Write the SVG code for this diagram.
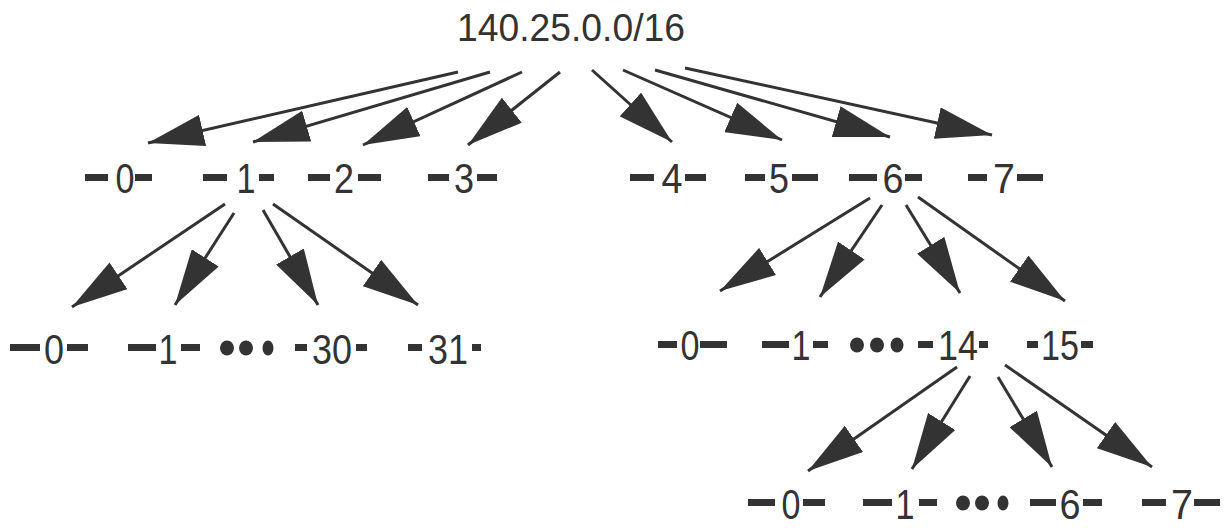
<svg xmlns="http://www.w3.org/2000/svg" width="1224" height="528" viewBox="0 0 1224 528">
<style>
.t{font-family:"Liberation Sans",Arial,sans-serif;font-size:43px;fill:#333;text-anchor:middle}
.t3{font-family:"Liberation Sans",Arial,sans-serif;font-size:42px;fill:#333;text-anchor:middle}
.r{font-family:"Liberation Sans",Arial,sans-serif;font-size:38px;fill:#333;text-anchor:middle}
.d{fill:#333}
.a{stroke:#333;stroke-width:3;fill:none;marker-end:url(#ah)}
</style>
<defs>
<marker id="ah" markerUnits="userSpaceOnUse" viewBox="0 0 56 32" refX="56" refY="16" markerWidth="56" markerHeight="32" orient="auto">
<path d="M0,0 L56,16 L0,32 Z" fill="#333"/>
</marker>
</defs>
<rect width="1224" height="528" fill="#fff"/>
<g id="root"><text class="r" x="571" y="41" textLength="228" lengthAdjust="spacingAndGlyphs">140.25.0.0/16</text></g>

<g id="connectors">
<path class="a" d="M458,72 L148,143"/>
<path class="a" d="M490,72 L253,142"/>
<path class="a" d="M522,72 L363,145"/>
<path class="a" d="M560,72 L468,145"/>
<path class="a" d="M592,70 L672,142"/>
<path class="a" d="M623,70 L782,140"/>
<path class="a" d="M655,70 L890,137"/>
<path class="a" d="M685,68 L992,135"/>
<path class="a" d="M225,204 L72,307"/>
<path class="a" d="M234,213 L175,305"/>
<path class="a" d="M263,210 L318,305"/>
<path class="a" d="M273,204 L418,305"/>
<path class="a" d="M870,198 L720,291"/>
<path class="a" d="M882,205 L820,297"/>
<path class="a" d="M906,205 L960,293"/>
<path class="a" d="M918,197 L1065,301"/>
<path class="a" d="M957,367 L808,471"/>
<path class="a" d="M970,376 L912,469"/>
<path class="a" d="M998,377 L1052,467"/>
<path class="a" d="M1005,365 L1152,467"/>
</g>

<g id="n1-0"><rect class="d" x="85" y="174" width="23" height="7"/><text class="t" x="125" y="193" textLength="19" lengthAdjust="spacingAndGlyphs">0</text><rect class="d" x="135" y="174" width="17" height="7"/></g>
<g id="n1-1"><rect class="d" x="203" y="174" width="24" height="7"/><text class="t" x="246" y="193" textLength="19" lengthAdjust="spacingAndGlyphs">1</text><rect class="d" x="259" y="174" width="15" height="7"/></g>
<g id="n1-2"><rect class="d" x="308" y="174" width="22" height="7"/><text class="t" x="344" y="193" textLength="20" lengthAdjust="spacingAndGlyphs">2</text><rect class="d" x="358" y="174" width="23" height="7"/></g>
<g id="n1-3"><rect class="d" x="428" y="174" width="21" height="7"/><text class="t" x="464" y="193" textLength="20" lengthAdjust="spacingAndGlyphs">3</text><rect class="d" x="477" y="174" width="20" height="7"/></g>
<g id="n1-4"><rect class="d" x="630" y="174" width="24" height="7"/><text class="t" x="672" y="193" textLength="21" lengthAdjust="spacingAndGlyphs">4</text><rect class="d" x="685" y="174" width="21" height="7"/></g>
<g id="n1-5"><rect class="d" x="745" y="174" width="20" height="7"/><text class="t" x="779" y="193" textLength="20" lengthAdjust="spacingAndGlyphs">5</text><rect class="d" x="792" y="174" width="26" height="7"/></g>
<g id="n1-6"><rect class="d" x="849" y="174" width="28" height="7"/><text class="t" x="893" y="193" textLength="21" lengthAdjust="spacingAndGlyphs">6</text><rect class="d" x="905" y="174" width="17" height="7"/></g>
<g id="n1-7"><rect class="d" x="968" y="174" width="19" height="7"/><text class="t" x="1004" y="193" textLength="22" lengthAdjust="spacingAndGlyphs">7</text><rect class="d" x="1017" y="174" width="26" height="7"/></g>

<g id="n2a-0"><rect class="d" x="10" y="344" width="30" height="7"/><text class="t" x="54" y="364" textLength="20" lengthAdjust="spacingAndGlyphs">0</text><rect class="d" x="67" y="344" width="21" height="7"/></g>
<g id="n2a-1"><rect class="d" x="128" y="344" width="28" height="7"/><text class="t" x="168" y="364" textLength="19" lengthAdjust="spacingAndGlyphs">1</text><rect class="d" x="181" y="344" width="19" height="7"/></g>
<g id="n2a-dots"><ellipse class="d" cx="227" cy="348" rx="7" ry="7.5"/><ellipse class="d" cx="246" cy="348" rx="7" ry="7.5"/><ellipse class="d" cx="268" cy="348" rx="5.5" ry="7.5"/></g>
<g id="n2a-30"><rect class="d" x="295" y="344" width="12" height="7"/><text class="t" x="332" y="364" textLength="40" lengthAdjust="spacingAndGlyphs">30</text><rect class="d" x="356" y="344" width="11" height="7"/></g>
<g id="n2a-31"><rect class="d" x="408" y="344" width="14" height="7"/><text class="t" x="448" y="364" textLength="40" lengthAdjust="spacingAndGlyphs">31</text><rect class="d" x="472" y="344" width="9" height="7"/></g>

<g id="n2b-0"><rect class="d" x="658" y="341" width="19" height="7"/><text class="t" x="690" y="360" textLength="19" lengthAdjust="spacingAndGlyphs">0</text><rect class="d" x="700" y="341" width="27" height="7"/></g>
<g id="n2b-1"><rect class="d" x="762" y="341" width="27" height="7"/><text class="t" x="801" y="360" textLength="19" lengthAdjust="spacingAndGlyphs">1</text><rect class="d" x="813" y="341" width="15" height="7"/></g>
<g id="n2b-dots"><ellipse class="d" cx="857" cy="345" rx="7" ry="7.5"/><ellipse class="d" cx="877" cy="345" rx="7" ry="7.5"/><ellipse class="d" cx="897" cy="345" rx="6.5" ry="7.5"/></g>
<g id="n2b-14"><rect class="d" x="918" y="341" width="15" height="7"/><text class="t" x="958" y="360" textLength="40" lengthAdjust="spacingAndGlyphs">14</text><rect class="d" x="979" y="341" width="9" height="7"/></g>
<g id="n2b-15"><rect class="d" x="1027" y="341" width="11" height="7"/><text class="t" x="1060" y="360" textLength="38" lengthAdjust="spacingAndGlyphs">15</text><rect class="d" x="1081" y="341" width="12" height="7"/></g>

<g id="n3-0"><rect class="d" x="748" y="499" width="27" height="7"/><text class="t3" x="791" y="519" textLength="19" lengthAdjust="spacingAndGlyphs">0</text><rect class="d" x="803" y="499" width="22" height="7"/></g>
<g id="n3-1"><rect class="d" x="863" y="499" width="29" height="7"/><text class="t3" x="905" y="519" textLength="19" lengthAdjust="spacingAndGlyphs">1</text><rect class="d" x="919" y="499" width="18" height="7"/></g>
<g id="n3-dots"><ellipse class="d" cx="963" cy="503" rx="7" ry="7.5"/><ellipse class="d" cx="982" cy="503" rx="7" ry="7.5"/><ellipse class="d" cx="1003" cy="503" rx="5.5" ry="7.5"/></g>
<g id="n3-6"><rect class="d" x="1030" y="499" width="26" height="7"/><text class="t3" x="1070" y="519" textLength="21" lengthAdjust="spacingAndGlyphs">6</text><rect class="d" x="1083" y="499" width="19" height="7"/></g>
<g id="n3-7"><rect class="d" x="1142" y="499" width="24" height="7"/><text class="t3" x="1182" y="519" textLength="22" lengthAdjust="spacingAndGlyphs">7</text><rect class="d" x="1194" y="499" width="26" height="7"/></g>
</svg>
